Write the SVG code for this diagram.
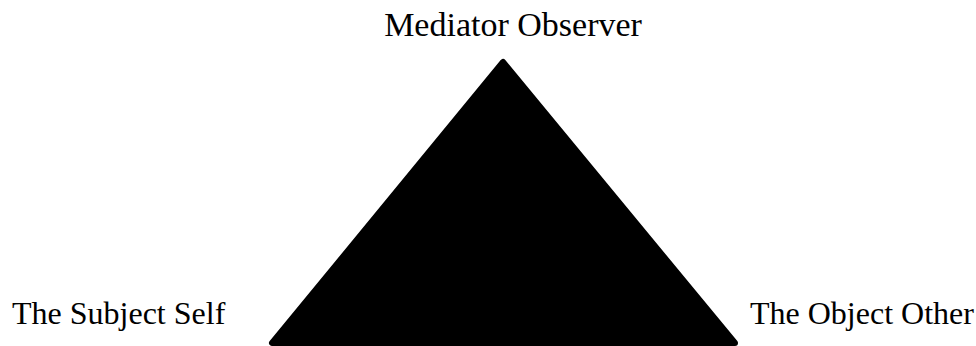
<svg xmlns="http://www.w3.org/2000/svg" width="976" height="346" viewBox="0 0 976 346">
<style>
.lbl{font-family:"Liberation Serif","Times New Roman",serif;font-size:32px;fill:#000}
.tri{fill:#000;stroke:#000;stroke-width:6;stroke-linejoin:round}
</style>
<rect width="976" height="346" fill="#fff"/>
<g id="triangle"><polygon class="tri" points="503,62 272,343 735,343"/></g>
<g id="mediator"><text class="lbl" x="513" y="36" text-anchor="middle" style="font-size:34px">Mediator Observer</text></g>
<g id="subject"><text class="lbl" x="12" y="324">The Subject Self</text></g>
<g id="object"><text class="lbl" x="750" y="324">The Object Other</text></g>
<g id="connectors"></g>
</svg>
